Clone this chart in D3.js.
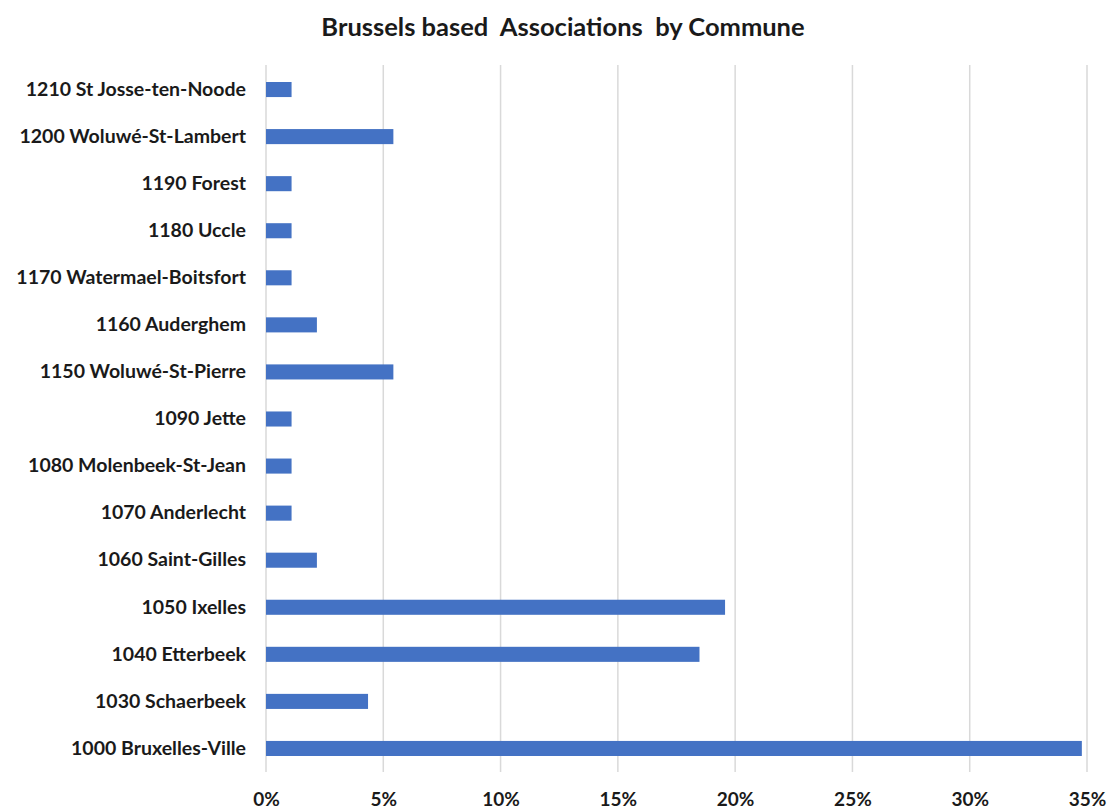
<!DOCTYPE html>
<html>
<head>
<meta charset="utf-8">
<script src="https://cdn.jsdelivr.net/npm/d3@7"></script>
<style>
  html, body { margin: 0; padding: 0; background: #ffffff; }
  svg { display: block; }
  text { font-family: "Lato", "Open Sans", sans-serif; font-weight: 700; fill: #1a1a1a; }
</style>
</head>
<body>
<svg id="chart" width="1107" height="809"></svg>
<script>
// Communes, top to bottom as drawn
const communes = [
  "1210 St Josse-ten-Noode",
  "1200 Woluwé-St-Lambert",
  "1190 Forest",
  "1180 Uccle",
  "1170 Watermael-Boitsfort",
  "1160 Auderghem",
  "1150 Woluwé-St-Pierre",
  "1090 Jette",
  "1080 Molenbeek-St-Jean",
  "1070 Anderlecht",
  "1060 Saint-Gilles",
  "1050 Ixelles",
  "1040 Etterbeek",
  "1030 Schaerbeek",
  "1000 Bruxelles-Ville"
];
// Share of associations per commune (fraction)
const shares = [
  0.0109, 0.0543, 0.0109, 0.0109, 0.0109, 0.0217, 0.0543,
  0.0109, 0.0109, 0.0109, 0.0217, 0.1957, 0.1848, 0.0435, 0.3478
];
const xTicks = [0, 0.05, 0.10, 0.15, 0.20, 0.25, 0.30, 0.35];
const title = "Brussels based  Associations  by Commune";

const svg = d3.select("#chart");
const plot = { left: 266, right: 1087, top: 66, bottom: 772 };

const x = d3.scaleLinear().domain([0, 0.35]).range([plot.left, plot.right]);
const y = d3.scaleBand().domain(communes).range([plot.top, plot.bottom])
  .paddingInner(0.68).paddingOuter(0.34);

// Title
svg.append("text")
  .attr("x", 563).attr("y", 36)
  .attr("text-anchor", "middle")
  .style("font-size", "25.5px")
  .style("white-space", "pre")
  .text(title);

// Vertical gridlines
svg.append("g").selectAll("line")
  .data(xTicks).join("line")
  .attr("x1", d => x(d)).attr("x2", d => x(d))
  .attr("y1", plot.top - 1).attr("y2", plot.bottom)
  .attr("stroke", "#d9d9d9").attr("stroke-width", 1.5);

// X axis labels
const xAxis = d3.axisBottom(x).tickValues(xTicks)
  .tickFormat(d3.format(".0%")).tickSize(0).tickPadding(0);
const gx = svg.append("g").attr("transform", `translate(0,${plot.bottom + 20})`).call(xAxis);
gx.select(".domain").remove();
gx.selectAll("text").style("font-size", "19px").style("font-family", null).attr("fill", "#1a1a1a").attr("dy", "0.71em");

// Y axis labels
const yAxis = d3.axisLeft(y).tickSize(0).tickPadding(0);
const gy = svg.append("g").attr("transform", `translate(${plot.left - 20},0)`).call(yAxis);
gy.select(".domain").remove();
gy.selectAll("text").style("font-size", "19.5px").style("font-family", null).attr("fill", "#1a1a1a");

// Bars
svg.append("g").selectAll("rect")
  .data(communes.map((c, i) => ({ c, v: shares[i] }))).join("rect")
  .attr("x", x(0))
  .attr("y", d => y(d.c))
  .attr("width", d => x(d.v) - x(0))
  .attr("height", y.bandwidth())
  .attr("fill", "#4472c4");
</script>
</body>
</html>
